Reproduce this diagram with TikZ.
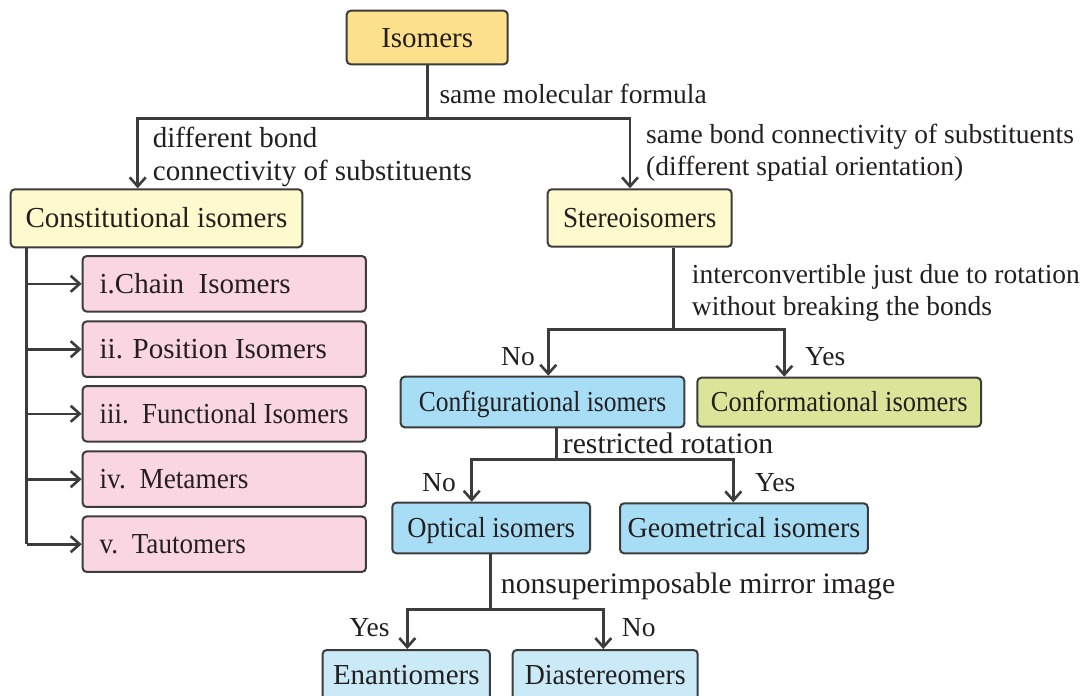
\documentclass[tikz,border=0pt]{standalone}
\usepackage{fontspec}
\setmainfont{Liberation Serif}
\usetikzlibrary{arrows.meta}
\definecolor{lc}{HTML}{3C3C3C}
\definecolor{tc}{HTML}{231F20}
\definecolor{cgold}{HTML}{FDE08B}
\definecolor{clemon}{HTML}{FFFACD}
\definecolor{cpink}{HTML}{FAD6E3}
\definecolor{cblue}{HTML}{A8DEF5}
\definecolor{cgreen}{HTML}{DCE49A}
\definecolor{clblue}{HTML}{CBEAF8}
\newcommand{\boxfont}{\fontsize{29}{32}\selectfont}
\newcommand{\labfont}{\fontsize{27.5}{32}\selectfont}
\newcommand{\labbig}{\fontsize{29}{32}\selectfont}
\newcommand{\labbigger}{\fontsize{29.7}{32}\selectfont}
\newcommand{\cx}[2]{\scalebox{#1}[1]{#2}}
\newcommand{\pl}[1]{\makebox[249.3pt][l]{#1}}
\tikzset{
  box/.style={draw=lc, line width=2pt, rounded corners=4pt, inner xsep=0pt, inner ysep=0pt,
    text height=19.2pt, text depth=0pt, font=\boxfont, text=tc},
  pinkbox/.style={box, fill=cpink, inner xsep=17pt, minimum height=55.5pt},
  lab/.style={font=\labfont, text=tc, inner sep=0pt, anchor=base west},
  labr/.style={lab, anchor=base east},
  ln/.style={draw=lc, line width=2.6pt, line join=miter},
  arr/.style={ln, -{Straight Barb[length=9pt,width=16pt]}},
  arrb/.style={ln, {Straight Barb[length=9pt,width=16pt]}-{Straight Barb[length=9pt,width=16pt]}}
}
\begin{document}
\begin{tikzpicture}[x=1pt,y=-1pt]
\useasboundingbox (0,0) rectangle (1080,696);
\fill[white] (0,0) rectangle (1080,696);

% boxes
\node[box, fill=cgold, minimum width=161pt, minimum height=53.6pt] (iso) at (427.2,37.5) {Isomers};
\node[box, fill=clemon, minimum width=291.6pt, minimum height=58pt] (con) at (156.5,218.3) {Constitutional isomers};
\node[box, fill=clemon, minimum width=184pt, minimum height=57.4pt] (stereo) at (639.7,218) {\cx{0.933}{Stereoisomers}};

\node[pinkbox] (p1) at (224.3,283.8) {\pl{i.Chain\ \ Isomers}};
\node[pinkbox] (p2) at (224.3,349.2) {\pl{ii. Position Isomers}};
\node[pinkbox] (p3) at (224.3,413.8) {\pl{\cx{0.925}{iii.\ \ Functional Isomers}}};
\node[pinkbox] (p4) at (224.3,479.2) {\pl{\cx{0.94}{iv.\ \ Metamers}}};
\node[pinkbox] (p5) at (224.3,544.2) {\pl{\cx{0.935}{v.\ \ Tautomers}}};

\node[box, fill=cblue, minimum width=283.6pt, minimum height=50.6pt] (config) at (542.5,402) {\cx{0.88}{Configurational isomers}};
\node[box, fill=cgreen, minimum width=283.7pt, minimum height=49pt] (conform) at (839.2,402.2) {\cx{0.913}{Conformational isomers}};
\node[box, fill=cblue, minimum width=197.7pt, minimum height=50.6pt] (optical) at (491.2,528) {\cx{0.917}{Optical isomers}};
\node[box, fill=cblue, minimum width=247.7pt, minimum height=50pt] (geo) at (743.9,528.3) {\cx{0.966}{Geometrical isomers}};
\node[box, fill=clblue, minimum width=167.3pt, minimum height=50pt] (enan) at (406.3,675) {Enantiomers};
\node[box, fill=clblue, minimum width=185pt, minimum height=50pt] (dia) at (605.2,675) {\cx{0.96}{Diastereomers}};

% connectors: Isomers
\coordinate (j1) at (427.2,118.5);
\coordinate (aL) at (137.7,118.5);
\coordinate (aR) at (630,118.5);
\draw[ln] (iso.south) -- (j1);
\draw[arrb] (aL |- con.north) -- (aL) -- (aR) -- (aR |- stereo.north);

% constitutional list
\coordinate (lx) at (26.7,0);
\draw[ln] (con.south -| lx) -- (lx |- p5.west);
\foreach \i in {1,...,5} {\draw[arr] (lx |- p\i.west) -- (p\i.west);}

% stereo
\coordinate (s1) at (673.3,329.3);
\coordinate (sL) at (548.3,329.3);
\coordinate (sR) at (784.3,329.3);
\draw[ln] (stereo.south -| s1) -- (s1);
\draw[arrb] (sL |- config.north) -- (sL) -- (sR) -- (sR |- conform.north);

% configurational
\coordinate (c1) at (556.7,459.3);
\coordinate (cL) at (471.7,459.3);
\coordinate (cR) at (733.3,459.3);
\draw[ln] (config.south -| c1) -- (c1);
\draw[arrb] (cL |- optical.north) -- (cL) -- (cR) -- (cR |- geo.north);

% optical
\coordinate (o1) at (490.7,609.3);
\coordinate (oL) at (407.3,609.3);
\coordinate (oR) at (603.3,609.3);
\draw[ln] (optical.south -| o1) -- (o1);
\draw[arrb] (oL |- enan.north) -- (oL) -- (oR) -- (oR |- dia.north);

% labels
\node[lab] (l1) at (439.3,103.3) {same molecular formula};
\node[lab, font=\labbig] (l2a) at (152.7,147.7) {different bond};
\node[lab, font=\labbig] (l2b) at (152.7,180) {connectivity of substituents};
\node[lab] (l3a) at (646,143.3) {same bond connectivity of substituents};
\node[lab] (l3b) at (646,175) {(different spatial orientation)};
\node[lab] (l4a) at (691.7,283.3) {interconvertible just due to rotation};
\node[lab] (l4b) at (691.7,315) {without breaking the bonds};
\node[labr] (l5) at (535,365) {No};
\node[lab] (l6) at (805,365) {Yes};
\node[lab, font=\labbigger] (l7) at (562.7,453.3) {restricted rotation};
\node[labr] (l8) at (456,491) {No};
\node[lab] (l9) at (755,491.7) {Yes};
\node[lab, font=\labbigger] (l10) at (500.7,593.3) {nonsuperimposable mirror image};
\node[lab] (l11) at (349.3,636.7) {Yes};
\node[lab] (l12) at (621.7,636.7) {No};
\end{tikzpicture}
\end{document}
